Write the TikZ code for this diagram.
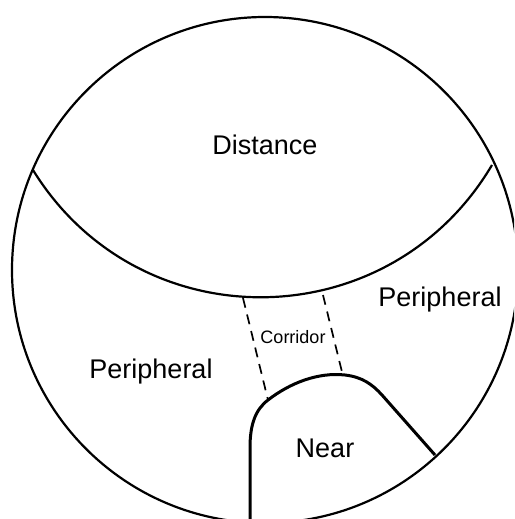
\documentclass[tikz,border=0pt]{standalone}
\usepackage{fontspec}
\setmainfont{Liberation Sans}
\begin{document}
\begin{tikzpicture}[x=1pt, y=-1pt,
	zone/.style={font=\fontsize{27}{30}\selectfont},
	smallzone/.style={font=\fontsize{18}{20}\selectfont},
	border/.style={line width=2.2pt},
	corridor/.style={line width=1.7pt, dash pattern=on 10pt off 7pt}]

\useasboundingbox (0,0) rectangle (514,519);
\clip (0,0) rectangle (514,519);

% Campo visual
\draw[border] (265,270) circle (253);

% Zona distante
\coordinate (dl) at (33,170);
\coordinate (dr) at (492,165);
\draw[border] (dl) .. controls (139,342) and (389,339) .. (dr);

% Pasillo
\coordinate (c1) at (243,298);
\coordinate (c2) at (268,400);
\coordinate (c3) at (323,295);
\coordinate (c4) at (343,376);
\draw[corridor] (c1) -- (c2);
\draw[corridor] (c3) -- (c4);

% Zona cercana
\coordinate (n0) at (250,525);
\coordinate (n1) at (435,455);
\draw[line width=3pt] (n0) -- (250,448) .. controls (250,425) and (255,410) .. (c2)
	.. controls (290,383) and (318,372) .. (345,375)
	.. controls (362,377) and (372,384) .. (382,395) -- (n1);

% Rotulos
\node[zone] (dist) at (265,145) {Distance};
\node[zone] (perl) at (151,372) {Peripheral};
\node[zone] (perr) at (440,300) {Peripheral};
\node[smallzone] (corr) at (293,337) {Corridor};
\node[zone] (near) at (325,448) {Near};
\end{tikzpicture}
\end{document}
